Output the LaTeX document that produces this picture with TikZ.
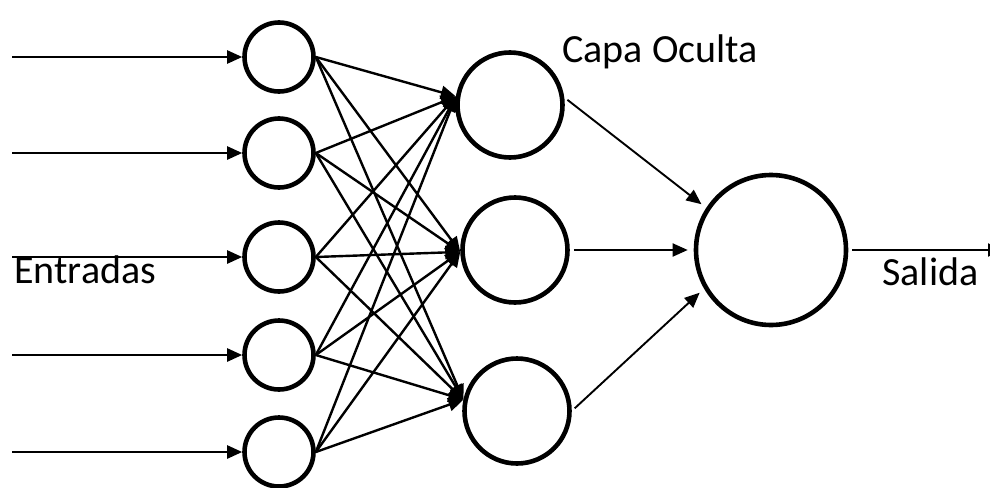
\documentclass[tikz,border=0pt]{standalone}
\usepackage{fontspec}
\setmainfont{Carlito}
\usetikzlibrary{arrows.meta,positioning}
\tikzset{neuron/.style={circle,draw,line width=2.3pt,inner sep=0pt,minimum size=#1},
  link/.style={line width=1.2pt,-{Triangle[length=7.5pt,width=6.5pt]}},
  outlink/.style={line width=0.95pt,shorten <=2pt,shorten >=3pt,-{Triangle[length=7.5pt,width=6.5pt]}},
  lbl/.style={anchor=base west,inner sep=0pt,font=\fontsize{20}{24}\selectfont}}

\begin{document}
\begin{tikzpicture}[x=0.5pt,y=-0.5pt]
\useasboundingbox (0,0) rectangle (990,487);
% entradas
\foreach \n/\y in {1/57,2/153,3/257,4/355,5/452} {
  \node[neuron=34.5pt] (i\n) at (279,\y) {};
  \coordinate (s\n) at (12,\y);
  \draw[link] (s\n) -- (i\n);
}
% capa oculta y salida
\node[neuron=52.5pt] (h1) at (510,105) {};
\node[neuron=52.5pt] (h2) at (515,250) {};
\node[neuron=52.5pt] (h3) at (517,411) {};
\node[neuron=75pt] (out) at (771,250) {};
\foreach \i in {1,...,5}
  \foreach \h/\a in {1/171,2/182,3/168}
    \draw[link] (i\i.east) -- (h\h.\a);
\draw[outlink] (h1.8) -- (out.147);
\draw[outlink] (h2.east) -- (out.west);
\draw[outlink] (h3.east) -- (out.210);
\coordinate (fin) at (1003,250);
\draw[outlink,shorten >=0pt] (out.east) -- (fin);
% textos
\node[lbl] (entradas) at (14,283) {Entradas};
\node[lbl] (capa) at (562,62) {Capa Oculta};
\node[lbl] (salida) at (882,285) {Salida};
\end{tikzpicture}
\end{document}
